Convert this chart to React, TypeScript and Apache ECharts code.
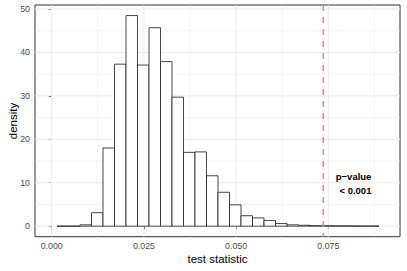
import React, { useEffect, useRef } from "react";
import * as echarts from "echarts";

// Histogram bins (density)
const binStart = 0.00144;
const binWidth = 0.003118;
const densities = [
  0, 0, 0.3, 3.1, 18.0, 37.3, 48.5, 37.1, 45.7, 37.9, 29.7, 17.0, 17.1, 11.6,
  7.8, 4.9, 2.4, 1.9, 1.3, 0.6, 0.3, 0.2, 0.1, 0.1, 0.05, 0.05, 0.02, 0.02,
];
const observedStat = 0.07365;
const xTicks = [0, 0.025, 0.05, 0.075];
const xMinor = [0.0125, 0.0375, 0.0625, 0.0875];
const yTicks = [0, 10, 20, 30, 40, 50];
const yMinor = [5, 15, 25, 35, 45];
const xLabel = "test statistic";
const yLabel = "density";
const annotation = "p\u2212value\n< 0.001";

const FONT = "'Liberation Sans', Arial, Helvetica, sans-serif";

export default function App() {
  const ref = useRef<HTMLDivElement>(null);
  useEffect(() => {
    if (!ref.current) return;
    const chart = echarts.init(ref.current, null, { renderer: "svg" });

    const bins = densities.map((d, i) => [
      binStart + i * binWidth,
      binStart + (i + 1) * binWidth,
      d,
    ]);
    const grid: any[] = [];
    xTicks.forEach((v) => grid.push([v, 0, 1]));
    xMinor.forEach((v) => grid.push([v, 0, 0]));
    yTicks.forEach((v) => grid.push([v, 1, 1]));
    yMinor.forEach((v) => grid.push([v, 1, 0]));

    const option: any = {
      animation: false,
      backgroundColor: "#ffffff",
      grid: {
        left: 35,
        right: 7,
        top: 5,
        bottom: 34.3,
        show: true,
        borderColor: "#333333",
        borderWidth: 1,
        backgroundColor: "#ffffff",
        outerBoundsMode: "none",
        containLabel: false,
      },
      xAxis: {
        type: "value",
        min: -0.00453,
        max: 0.09444,
        axisLine: { show: false },
        splitLine: { show: false },
        axisTick: {
          show: true,
          customValues: xTicks,
          length: 3,
          lineStyle: { color: "#333333", width: 1 },
        },
        axisLabel: {
          customValues: xTicks,
          formatter: (v: number) => v.toFixed(3),
          color: "#4d4d4d",
          fontSize: 8.8,
          fontFamily: FONT,
          margin: 5,
          hideOverlap: false,
        },
      },
      yAxis: {
        type: "value",
        min: -2.43,
        max: 50.93,
        axisLine: { show: false },
        splitLine: { show: false },
        axisTick: {
          show: true,
          customValues: yTicks,
          length: 3,
          lineStyle: { color: "#333333", width: 1 },
        },
        axisLabel: {
          customValues: yTicks,
          color: "#4d4d4d",
          fontSize: 8.8,
          fontFamily: FONT,
          margin: 5,
          hideOverlap: false,
        },
      },
      series: [
        {
          type: "custom",
          z: 1,
          silent: true,
          data: grid,
          encode: { x: -1, y: -1 },
          renderItem: (params: any, api: any) => {
            const cs = params.coordSys;
            const v = api.value(0);
            const horiz = api.value(1) === 1;
            const major = api.value(2) === 1;
            const style = { stroke: "#ebebeb", lineWidth: major ? 1 : 0.5 };
            if (horiz) {
              const y = api.coord([0, v])[1];
              return {
                type: "line",
                shape: { x1: cs.x, y1: y, x2: cs.x + cs.width, y2: y },
                style,
              };
            }
            const x = api.coord([v, 0])[0];
            return {
              type: "line",
              shape: { x1: x, y1: cs.y, x2: x, y2: cs.y + cs.height },
              style,
            };
          },
        },
        {
          type: "custom",
          z: 2,
          silent: true,
          data: bins,
          encode: { x: [0, 1], y: 2 },
          renderItem: (params: any, api: any) => {
            const p0 = api.coord([api.value(0), 0]);
            const p1 = api.coord([api.value(1), api.value(2)]);
            return {
              type: "rect",
              shape: {
                x: p0[0],
                y: p1[1],
                width: p1[0] - p0[0],
                height: p0[1] - p1[1],
              },
              style: { fill: "#ffffff", stroke: "#1a1a1a", lineWidth: 0.8 },
            };
          },
        },
        {
          type: "custom",
          z: 3,
          silent: true,
          data: [[observedStat]],
          encode: { x: 0 },
          renderItem: (params: any, api: any) => {
            const cs = params.coordSys;
            const x = api.coord([api.value(0), 0])[0];
            return {
              type: "line",
              shape: { x1: x, y1: cs.y, x2: x, y2: cs.y + cs.height },
              style: { stroke: "#f48383", lineWidth: 1.6, lineDash: [6, 6] },
            };
          },
        },
        {
          type: "custom",
          z: 4,
          silent: true,
          data: [[0.08669, 9.89]],
          encode: { x: 0, y: 1 },
          renderItem: (params: any, api: any) => {
            const p = api.coord([api.value(0), api.value(1)]);
            return {
              type: "text",
              x: p[0],
              y: p[1],
              style: {
                text: annotation,
                fill: "#000000",
                font: `bold 9.5px ${FONT}`,
                align: "right",
                verticalAlign: "middle",
                lineHeight: 14,
              },
            };
          },
        },
      ],
      graphic: [
        {
          type: "text",
          x: 217.5,
          y: 259,
          style: {
            text: xLabel,
            fill: "#000000",
            font: `11.5px ${FONT}`,
            align: "center",
            verticalAlign: "middle",
          },
        },
        {
          type: "text",
          x: 12.5,
          y: 121,
          rotation: Math.PI / 2,
          style: {
            text: yLabel,
            fill: "#000000",
            font: `11.5px ${FONT}`,
            align: "center",
            verticalAlign: "middle",
          },
        },
      ],
    };
    chart.setOption(option);
    return () => chart.dispose();
  }, []);
  return (
    <div
      ref={ref}
      style={{ position: "fixed", left: 0, top: 0, width: 407, height: 271 }}
    />
  );
}
